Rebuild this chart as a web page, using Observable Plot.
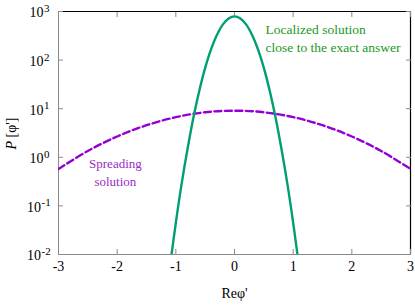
<!DOCTYPE html>
<html>
<head>
<meta charset="utf-8">
<script src="https://cdn.jsdelivr.net/npm/d3@7"></script>
<script src="https://cdn.jsdelivr.net/npm/@observablehq/plot@0.6"></script>
<style>
  html, body { margin: 0; padding: 0; background: #fff; }
  svg { display: block; }
</style>
</head>
<body>
<div id="chart"></div>
<script>
// ---- data ----
const xDomain = [-3, 3];
const yDomain = [0.01, 1000];
const xTicks = [-3, -2, -1, 0, 1, 2, 3];
const yTicks = [0.01, 0.1, 1, 10, 100, 1000];
const yTickExp = ["-2", "-1", "0", "1", "2", "3"];

// localized solution (green)
const locX = [-1.1, -1.0, -0.9, -0.8, -0.7, -0.6, -0.5, -0.4, -0.3, -0.2, -0.1, 0, 0.1, 0.2, 0.3, 0.4, 0.5, 0.6, 0.7, 0.8, 0.9, 1.0, 1.1];
const locP = [0.0057, 0.045, 0.29, 1.5, 6.6, 23.4, 69, 166, 329, 537, 720, 794, 720, 537, 329, 166, 69, 23.4, 6.6, 1.5, 0.29, 0.045, 0.0057];

// spreading solution (purple, dashed)
const sprX = [-3, -2.5, -2, -1.5, -1, -0.5, 0, 0.5, 1, 1.5, 2, 2.5, 3];
const sprP = [0.575, 1.35, 2.68, 4.57, 6.7, 8.45, 9.1, 8.45, 6.7, 4.57, 2.68, 1.35, 0.575];

const annotations = [
  {x: 0.53, y: 292, text: "Localized solution\nclose to the exact answer", series: "loc"},
  {x: -2.03, y: 0.52, text: "Spreading\nsolution", series: "spr"}
];

// ---- build tables ----
const loc = locX.map((x, i) => ({x, y: locP[i]}));
const spr = sprX.map((x, i) => ({x, y: sprP[i]}));
const yLabels = yTicks.map((y, i) => ({y, e: yTickExp[i]}));

const GREEN = "#009e73";
const PURPLE = "#9400d3";
const GRAY = "#8a8a8a";
const FONT = "'Liberation Serif', Tinos, 'Times New Roman', 'DejaVu Serif', serif";

const chart = Plot.plot({
  width: 415,
  height: 307,
  marginLeft: 58,
  marginRight: 5,
  marginTop: 11,
  marginBottom: 53,
  style: {background: "#fff", color: "#000"},
  x: {domain: xDomain},
  y: {type: "log", domain: yDomain},
  marks: [
    // frame
    Plot.ruleX([xDomain[0]], {stroke: GRAY, strokeWidth: 1}),
    Plot.ruleY([yDomain[0]], {stroke: GRAY, strokeWidth: 1}),
    Plot.ruleX([xDomain[1]], {stroke: "#000", strokeWidth: 1.2}),
    Plot.ruleY([yDomain[1]], {stroke: "#000", strokeWidth: 1.2}),
    // inward ticks
    Plot.axisX({anchor: "bottom", ticks: xTicks, tickSize: 5, dy: -5, tickFormat: () => "", label: null, stroke: GRAY}),
    Plot.axisX({anchor: "top", ticks: xTicks, tickSize: 5, dy: 5, tickFormat: () => "", label: null, stroke: GRAY}),
    Plot.axisY({anchor: "left", ticks: yTicks, tickSize: 5, dx: 5, tickFormat: () => "", label: null, stroke: GRAY}),
    Plot.axisY({anchor: "right", ticks: yTicks, tickSize: 5, dx: -5, tickFormat: () => "", label: null, stroke: GRAY}),
    // x tick labels
    Plot.axisX({anchor: "bottom", ticks: xTicks, tickSize: 0, tickPadding: 7, tickFormat: d => String(d), label: null, fontSize: 14, fill: "#000"}),
    // y tick labels 10^n
    Plot.text(yLabels.filter(d => !d.e.startsWith("-")), {y: "y", frameAnchor: "left", text: () => "10", textAnchor: "end", dx: -15, dy: 1.5, fontSize: 14, fill: "#000"}),
    Plot.text(yLabels.filter(d => !d.e.startsWith("-")), {y: "y", frameAnchor: "left", text: "e", textAnchor: "start", dx: -14.5, dy: -3, fontSize: 11, fill: "#000"}),
    Plot.text(yLabels.filter(d => d.e.startsWith("-")), {y: "y", frameAnchor: "left", text: () => "10", textAnchor: "end", dx: -17.5, dy: 1.5, fontSize: 14, fill: "#000"}),
    Plot.text(yLabels.filter(d => d.e.startsWith("-")), {y: "y", frameAnchor: "left", text: "e", textAnchor: "start", dx: -17, dy: -3, fontSize: 11, fill: "#000"}),
    // axis titles
    Plot.text(["Reφ'"], {frameAnchor: "bottom", dy: 43, fontSize: 14, fill: "#000"}),
    Plot.text(["P"], {frameAnchor: "left", dx: -47, dy: 8, rotate: -90, textAnchor: "end", fontStyle: "italic", fontSize: 14, fill: "#000"}),
    Plot.text([" [φ']"], {frameAnchor: "left", dx: -47, dy: 8, rotate: -90, textAnchor: "start", fontSize: 14, fill: "#000"}),
    // curves
    Plot.line(spr, {x: "x", y: "y", stroke: PURPLE, strokeWidth: 2.4, strokeDasharray: "7,3.5", curve: "catmull-rom", clip: true}),
    Plot.line(loc, {x: "x", y: "y", stroke: GREEN, strokeWidth: 2.4, curve: "catmull-rom", clip: true}),
    // annotations
    Plot.text(annotations.filter(d => d.series === "loc"), {x: "x", y: "y", text: "text", textAnchor: "start", lineAnchor: "middle", lineHeight: 1.35, fontSize: 13.5, fill: "#229922"}),
    Plot.text(annotations.filter(d => d.series === "spr"), {x: "x", y: "y", text: "text", textAnchor: "middle", lineAnchor: "middle", lineHeight: 1.4, fontSize: 13, fill: "#9a2bc4"})
  ]
});

// apply serif font to every text element of the chart
chart.setAttribute("font-family", FONT);
chart.style.fontFamily = FONT;
chart.querySelectorAll("text, g").forEach(el => { el.style.fontFamily = FONT; });

document.getElementById("chart").appendChild(chart);
</script>
</body>
</html>
